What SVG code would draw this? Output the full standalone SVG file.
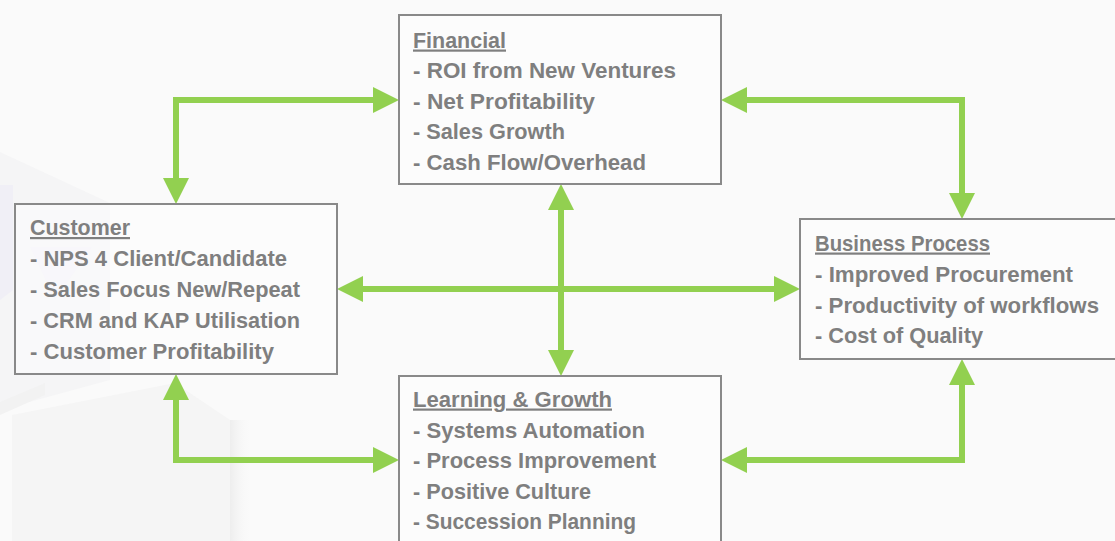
<svg xmlns="http://www.w3.org/2000/svg" width="1115" height="541" viewBox="0 0 1115 541">
  <style>
    .box { fill: #ffffff; fill-opacity: 0.45; stroke: #898989; stroke-width: 2; }
    .txt { font-family: "Liberation Sans", Arial, sans-serif; font-weight: bold; font-size: 22px; fill: #7f7f7f; }
    .head { text-decoration: underline; }
    .link { fill: none; stroke: #92d050; stroke-width: 6; stroke-linejoin: miter; marker-start: url(#tip); marker-end: url(#tip); }
  </style>
  <defs>
    <marker id="tip" markerUnits="userSpaceOnUse" viewBox="0 0 26 26" markerWidth="26" markerHeight="26" refX="2" refY="13" orient="auto-start-reverse">
      <path d="M0,0 L26,13 L0,26 Z" fill="#92d050"/>
    </marker>
    <linearGradient id="edgeShade" x1="0" y1="0" x2="1" y2="0">
      <stop offset="0" stop-color="#ececec" stop-opacity="0.9"/>
      <stop offset="1" stop-color="#fafafa" stop-opacity="0"/>
    </linearGradient>
  </defs>

  <!-- page background -->
  <rect x="0" y="0" width="1115" height="541" fill="#fafafa"/>

  <!-- faint backdrop artwork on the left -->
  <g id="backdrop">
    <polygon points="0,152 110,203 110,380 0,410" fill="#f5f5f6"/>
    <polygon points="0,185 13,185 13,290 0,300" fill="#f0eff6"/>
    <polygon points="30,247 92,247 55,300" fill="#f2f0f7"/>
    <polygon points="12,415 175,383 230,420 230,541 12,541" fill="#f5f5f5"/>
    <rect x="230" y="420" width="22" height="121" fill="url(#edgeShade)"/>
    <polygon points="0,402 45,383 45,395 0,415" fill="#f2f2f2"/>
  </g>

  <!-- connectors -->
  <g id="connectors">
    <path class="link" d="M176,180 L176,100 L375,100"/>
    <path class="link" d="M745,100 L962,100 L962,195"/>
    <path class="link" d="M176,398 L176,460 L375,460"/>
    <path class="link" d="M745,460 L962,460 L962,383"/>
    <path class="link" d="M561,208 L561,352"/>
    <path class="link" d="M361,289 L776,289"/>
  </g>

  <g id="financial">
    <rect class="box" x="399" y="15" width="322" height="169"/>
    <text class="txt head" x="413" y="47.5" textLength="93" lengthAdjust="spacingAndGlyphs">Financial</text>
    <text class="txt" x="413" y="78" textLength="263" lengthAdjust="spacingAndGlyphs">- ROI from New Ventures</text>
    <text class="txt" x="413" y="108.5" textLength="182" lengthAdjust="spacingAndGlyphs">- Net Profitability</text>
    <text class="txt" x="413" y="139" textLength="152" lengthAdjust="spacingAndGlyphs">- Sales Growth</text>
    <text class="txt" x="413" y="169.5" textLength="233" lengthAdjust="spacingAndGlyphs">- Cash Flow/Overhead</text>
  </g>

  <g id="customer">
    <rect class="box" x="15" y="204" width="322" height="170"/>
    <text class="txt head" x="30" y="235" textLength="100" lengthAdjust="spacingAndGlyphs">Customer</text>
    <text class="txt" x="30" y="266" textLength="257" lengthAdjust="spacingAndGlyphs">- NPS 4 Client/Candidate</text>
    <text class="txt" x="30" y="297" textLength="270" lengthAdjust="spacingAndGlyphs">- Sales Focus New/Repeat</text>
    <text class="txt" x="30" y="328" textLength="270" lengthAdjust="spacingAndGlyphs">- CRM and KAP Utilisation</text>
    <text class="txt" x="30" y="358.5" textLength="244" lengthAdjust="spacingAndGlyphs">- Customer Profitability</text>
  </g>

  <g id="business-process">
    <rect class="box" x="800" y="219" width="330" height="140"/>
    <text class="txt head" x="815" y="250.5" textLength="175" lengthAdjust="spacingAndGlyphs">Business Process</text>
    <text class="txt" x="815" y="281.5" textLength="258" lengthAdjust="spacingAndGlyphs">- Improved Procurement</text>
    <text class="txt" x="815" y="312.5" textLength="284" lengthAdjust="spacingAndGlyphs">- Productivity of workflows</text>
    <text class="txt" x="815" y="343" textLength="168" lengthAdjust="spacingAndGlyphs">- Cost of Quality</text>
  </g>

  <g id="learning-growth">
    <rect class="box" x="399" y="376" width="322" height="180"/>
    <text class="txt head" x="413" y="406.5" textLength="199" lengthAdjust="spacingAndGlyphs">Learning &amp; Growth</text>
    <text class="txt" x="413" y="437.5" textLength="232" lengthAdjust="spacingAndGlyphs">- Systems Automation</text>
    <text class="txt" x="413" y="468" textLength="243" lengthAdjust="spacingAndGlyphs">- Process Improvement</text>
    <text class="txt" x="413" y="498.5" textLength="178" lengthAdjust="spacingAndGlyphs">- Positive Culture</text>
    <text class="txt" x="413" y="529" textLength="223" lengthAdjust="spacingAndGlyphs">- Succession Planning</text>
  </g>
</svg>
